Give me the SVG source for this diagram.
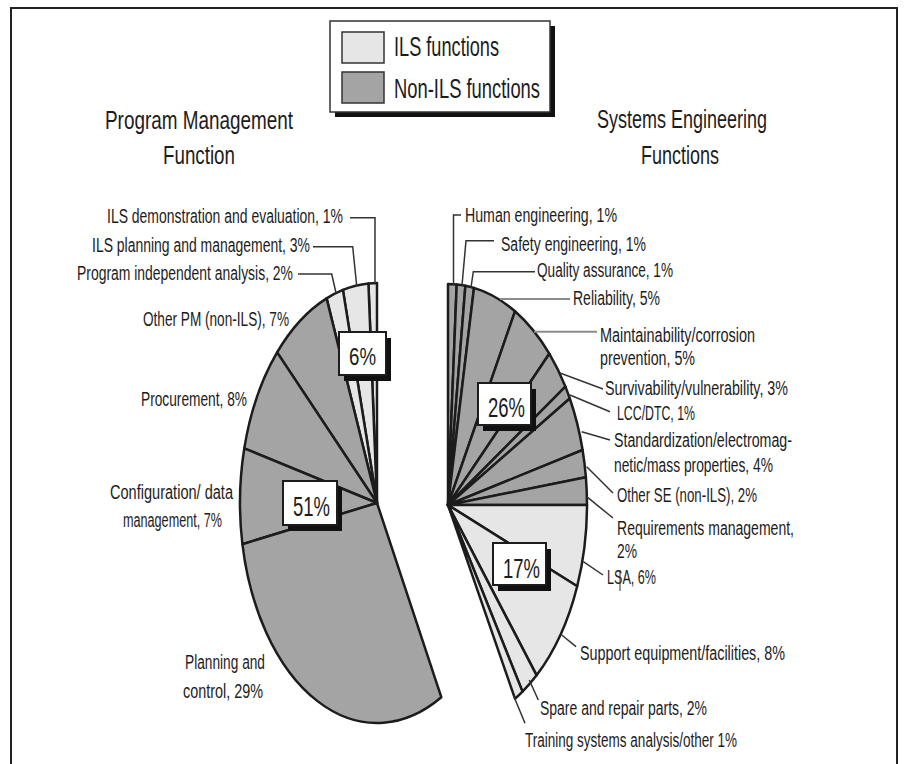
<svg xmlns="http://www.w3.org/2000/svg" width="906" height="764" viewBox="0 0 906 764">
<style>
text{font-family:"Liberation Sans","Open Sans",sans-serif;fill:#1c1c1c}
.lbl{font-size:19.5px}
.ttl{font-size:26px}
.leg{font-size:27px}
.pct{font-size:28px;text-anchor:middle}
.ils{fill:#e6e6e6}
.non{fill:#a4a4a4}
.sl{stroke:#1c1c1c;stroke-width:2.5;stroke-linejoin:round}
.ld{stroke:#333;stroke-width:1.5;fill:none}
.ldg{stroke:#8c8c8c;stroke-width:2;fill:none}
.box{fill:#fff;stroke:#1c1c1c;stroke-width:2}
.shd{fill:#111}
</style>

<g id="frame" fill="none" stroke="#222" stroke-width="2">
  <path d="M11,764 V8 H897 V764"/>
</g>

<g id="legend">
  <rect class="shd" x="335" y="26" width="220" height="91"/>
  <rect x="330" y="21" width="220" height="91" fill="#fff" stroke="#333" stroke-width="1.5"/>
  <rect class="ils" x="342" y="32" width="42" height="31" stroke="#333" stroke-width="1.5"/>
  <rect class="non" x="342" y="72" width="42" height="31" stroke="#333" stroke-width="1.5"/>
  <text class="leg" x="394" y="56" textLength="105" lengthAdjust="spacingAndGlyphs">ILS functions</text>
  <text class="leg" x="394" y="98" textLength="146" lengthAdjust="spacingAndGlyphs">Non-ILS functions</text>
</g>

<g id="title-pm">
  <text class="ttl" x="105" y="129" textLength="188" lengthAdjust="spacingAndGlyphs">Program Management</text>
  <text class="ttl" x="163" y="164" textLength="72" lengthAdjust="spacingAndGlyphs">Function</text>
</g>
<g id="title-se">
  <text class="ttl" x="597" y="128" textLength="170" lengthAdjust="spacingAndGlyphs">Systems Engineering</text>
  <text class="ttl" x="641" y="164" textLength="78" lengthAdjust="spacingAndGlyphs">Functions</text>
</g>

<!-- Left pie: Program Management -->
<g id="pm-ils-demo">
  <path class="sl ils" d="M377,503 L377,283 A137,220 0 0 0 368.4,283.4 Z"/>
  <text class="lbl" x="107" y="223" textLength="236" lengthAdjust="spacingAndGlyphs">ILS demonstration and evaluation, 1%</text>
</g>
<g id="pm-ils-planning">
  <path class="sl ils" d="M377,503 L368.4,283.4 A137,220 0 0 0 342.9,289.9 Z"/>
  <text class="lbl" x="92" y="252" textLength="218" lengthAdjust="spacingAndGlyphs">ILS planning and management, 3%</text>
</g>
<g id="pm-independent">
  <path class="sl ils" d="M377,503 L342.9,289.9 A137,220 0 0 0 326.6,298.4 Z"/>
  <text class="lbl" x="77" y="280" textLength="216" lengthAdjust="spacingAndGlyphs">Program independent analysis, 2%</text>
</g>
<g id="pm-other">
  <path class="sl non" d="M377,503 L326.6,298.4 A137,220 0 0 0 277.1,352.4 Z"/>
  <text class="lbl" x="143" y="326" textLength="146" lengthAdjust="spacingAndGlyphs">Other PM (non-ILS), 7%</text>
</g>
<g id="pm-procurement">
  <path class="sl non" d="M377,503 L277.1,352.4 A137,220 0 0 0 244.3,448.3 Z"/>
  <text class="lbl" x="141" y="406" textLength="106" lengthAdjust="spacingAndGlyphs">Procurement, 8%</text>
</g>
<g id="pm-configuration">
  <path class="sl non" d="M377,503 L244.3,448.3 A137,220 0 0 0 242.4,544.2 Z"/>
  <text class="lbl" x="110" y="499" textLength="123" lengthAdjust="spacingAndGlyphs">Configuration/ data</text>
  <text class="lbl" x="123" y="527" textLength="99" lengthAdjust="spacingAndGlyphs">management, 7%</text>
</g>
<g id="pm-planning">
  <path class="sl non" d="M377,503 L242.4,544.2 A137,220 0 0 0 441.3,697.2 Z"/>
  <text class="lbl" x="185" y="669" textLength="80" lengthAdjust="spacingAndGlyphs">Planning and</text>
  <text class="lbl" x="183" y="698" textLength="80" lengthAdjust="spacingAndGlyphs">control, 29%</text>
</g>

<!-- Right pie: Systems Engineering -->
<g id="se-human">
  <path class="sl non" d="M448,505 L448,284 A139,221 0 0 1 456.7,284.4 Z"/>
  <text class="lbl" x="465" y="222" textLength="152" lengthAdjust="spacingAndGlyphs">Human engineering, 1%</text>
</g>
<g id="se-safety">
  <path class="sl non" d="M448,505 L456.7,284.4 A139,221 0 0 1 465.4,285.7 Z"/>
  <text class="lbl" x="501" y="251" textLength="145" lengthAdjust="spacingAndGlyphs">Safety engineering, 1%</text>
</g>
<g id="se-quality">
  <path class="sl non" d="M448,505 L465.4,285.7 A139,221 0 0 1 474,287.9 Z"/>
  <text class="lbl" x="537" y="277" textLength="136" lengthAdjust="spacingAndGlyphs">Quality assurance, 1%</text>
</g>
<g id="se-reliability">
  <path class="sl non" d="M448,505 L474,287.9 A139,221 0 0 1 515,311.3 Z"/>
  <text class="lbl" x="573" y="305" textLength="87" lengthAdjust="spacingAndGlyphs">Reliability, 5%</text>
</g>
<g id="se-maintainability">
  <path class="sl non" d="M448,505 L515,311.3 A139,221 0 0 1 549.3,353.7 Z"/>
  <text class="lbl" x="600" y="342" textLength="155" lengthAdjust="spacingAndGlyphs">Maintainability/corrosion</text>
  <text class="lbl" x="600" y="365" textLength="95" lengthAdjust="spacingAndGlyphs">prevention, 5%</text>
</g>
<g id="se-survivability">
  <path class="sl non" d="M448,505 L549.3,353.7 A139,221 0 0 1 565.4,386.6 Z"/>
  <text class="lbl" x="605" y="395" textLength="183" lengthAdjust="spacingAndGlyphs">Survivability/vulnerability, 3%</text>
</g>
<g id="se-lcc">
  <path class="sl non" d="M448,505 L565.4,386.6 A139,221 0 0 1 569.8,398.5 Z"/>
  <text class="lbl" x="617" y="420" textLength="78" lengthAdjust="spacingAndGlyphs">LCC/DTC, 1%</text>
</g>
<g id="se-standardization">
  <path class="sl non" d="M448,505 L569.8,398.5 A139,221 0 0 1 582.6,450 Z"/>
  <text class="lbl" x="614" y="447" textLength="178" lengthAdjust="spacingAndGlyphs">Standardization/electromag-</text>
  <text class="lbl" x="614" y="472" textLength="159" lengthAdjust="spacingAndGlyphs">netic/mass properties, 4%</text>
</g>
<g id="se-other">
  <path class="sl non" d="M448,505 L582.6,450 A139,221 0 0 1 585.9,477.3 Z"/>
  <text class="lbl" x="617" y="502" textLength="140" lengthAdjust="spacingAndGlyphs">Other SE (non-ILS), 2%</text>
</g>
<g id="se-requirements">
  <path class="sl non" d="M448,505 L585.9,477.3 A139,221 0 0 1 587,505 Z"/>
  <text class="lbl" x="617" y="535" textLength="177" lengthAdjust="spacingAndGlyphs">Requirements management,</text>
  <text class="lbl" x="617" y="558" textLength="20" lengthAdjust="spacingAndGlyphs">2%</text>
</g>
<g id="se-lsa">
  <path class="sl ils" d="M448,505 L587,505 A139,221 0 0 1 577.2,586.3 Z"/>
  <text class="lbl" x="607" y="584" textLength="49" lengthAdjust="spacingAndGlyphs">LSA, 6%</text>
  <line x1="620" y1="570" x2="620" y2="591" stroke="#333" stroke-width="1"/>
</g>
<g id="se-support">
  <path class="sl ils" d="M448,505 L577.2,586.3 A139,221 0 0 1 536.6,675.3 Z"/>
  <text class="lbl" x="580" y="660" textLength="205" lengthAdjust="spacingAndGlyphs">Support equipment/facilities, 8%</text>
</g>
<g id="se-spare">
  <path class="sl ils" d="M448,505 L536.6,675.3 A139,221 0 0 1 522.5,691.6 Z"/>
  <text class="lbl" x="540" y="715" textLength="167" lengthAdjust="spacingAndGlyphs">Spare and repair parts, 2%</text>
</g>
<g id="se-training">
  <path class="sl ils" d="M448,505 L522.5,691.6 A139,221 0 0 1 515,698.7 Z"/>
  <text class="lbl" x="525" y="747" textLength="212" lengthAdjust="spacingAndGlyphs">Training systems analysis/other 1%</text>
</g>

<g id="connectors">
  <polyline class="ld" points="350,217.7 375,217.7 375,283.5"/>
  <polyline class="ld" points="313,246.7 352.7,246.7 356.7,286"/>
  <polyline class="ld" points="298,274 331.7,274 336,293"/>
  <polyline class="ld" points="461,215 453.5,215 453.5,284.5"/>
  <polyline class="ld" points="494,240.7 466,240.7 462,285.5"/>
  <polyline class="ld" points="535,271.7 473.3,271.7 471,287.5"/>
  <line class="ldg" x1="500" y1="299" x2="570" y2="299"/>
  <line class="ldg" x1="534" y1="331.7" x2="597" y2="331.7"/>
  <line class="ld" x1="560" y1="373" x2="603" y2="389"/>
  <line class="ld" x1="570" y1="395" x2="610" y2="411.7"/>
  <line class="ld" x1="581.7" y1="431.7" x2="610" y2="440"/>
  <line class="ld" x1="586.7" y1="466.7" x2="613" y2="493"/>
  <line class="ld" x1="586.7" y1="496.7" x2="613" y2="518"/>
  <line class="ld" x1="583.3" y1="561.7" x2="603" y2="575"/>
  <line class="ld" x1="561.7" y1="635" x2="576" y2="646.7"/>
  <line class="ld" x1="529.3" y1="680" x2="538.3" y2="700"/>
  <line class="ld" x1="513.3" y1="695" x2="525" y2="723.3"/>
</g>

<g id="total-pm-ils">
  <rect class="shd" x="344" y="338" width="47" height="43"/>
  <rect class="box" x="339" y="332" width="47" height="43"/>
  <text class="pct" x="362.5" y="365" style="font-size:24px" textLength="27" lengthAdjust="spacingAndGlyphs">6%</text>
</g>
<g id="total-pm-non">
  <rect class="shd" x="288" y="487" width="54" height="44"/>
  <rect class="box" x="283" y="481" width="54" height="44"/>
  <text class="pct" x="311.5" y="516" textLength="37" lengthAdjust="spacingAndGlyphs">51%</text>
</g>
<g id="total-se-non">
  <rect class="shd" x="483" y="389" width="53" height="42"/>
  <rect class="box" x="478" y="383" width="53" height="42"/>
  <text class="pct" x="506.5" y="416.5" textLength="37" lengthAdjust="spacingAndGlyphs">26%</text>
</g>
<g id="total-se-ils">
  <rect class="shd" x="498" y="549" width="53" height="42"/>
  <rect class="box" x="493" y="543" width="53" height="42"/>
  <text class="pct" x="521.5" y="577.5" textLength="37" lengthAdjust="spacingAndGlyphs">17%</text>
</g>
</svg>
